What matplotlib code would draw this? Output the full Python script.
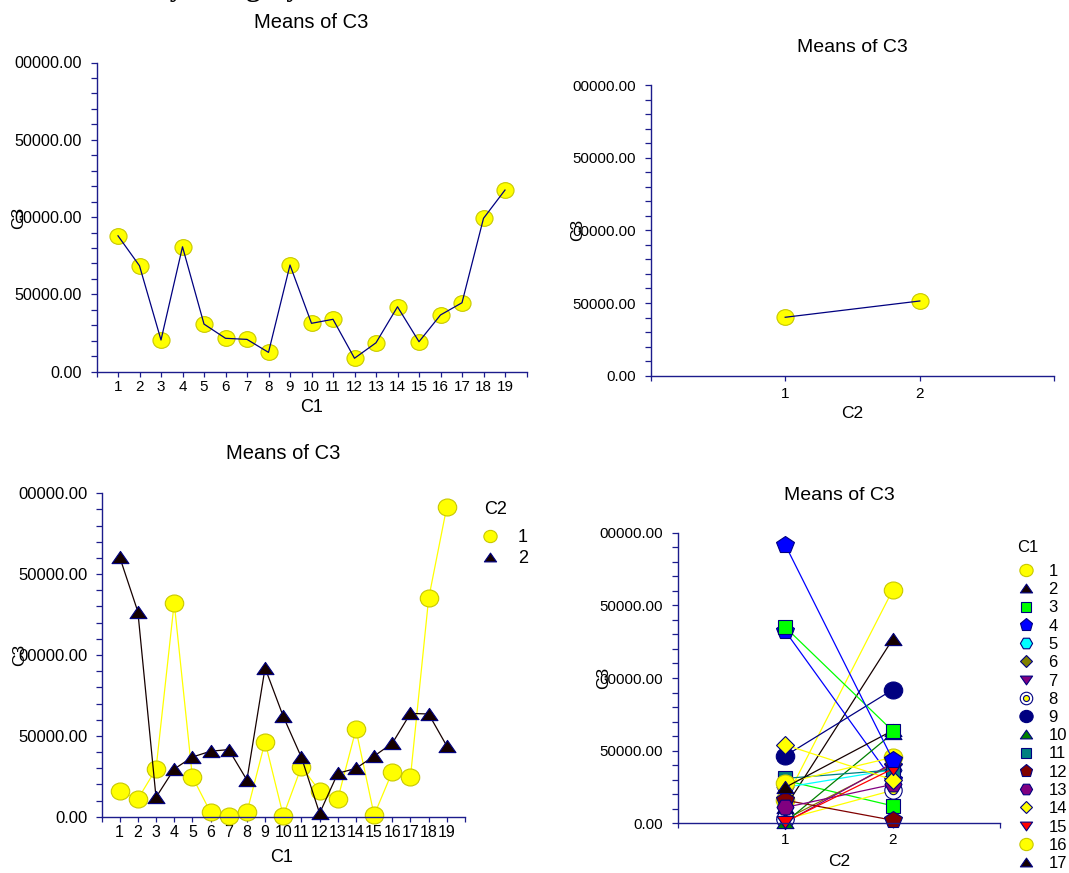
import numpy as np
import matplotlib
matplotlib.use('Agg')
import matplotlib.pyplot as plt
from matplotlib.path import Path
from matplotlib.lines import Line2D
from matplotlib.legend_handler import HandlerTuple
from matplotlib.ticker import FixedLocator, MultipleLocator, NullFormatter

plt.rcParams['font.family'] = ['Liberation Sans', 'DejaVu Sans']

# ---------------- data ----------------
c1_levels = list(range(1, 20))
c1_labels = [str(i) for i in c1_levels]
c2_levels = [1, 2]
c2_labels = ['1', '2']
means_by_c1 = [87900, 68500, 20500, 80800, 30800, 21600, 20900, 12500, 69000, 31300,
               33900, 8700, 18700, 42000, 19400, 36700, 44600, 99200, 117500]
means_by_c2 = [40200, 51400]
means_c2_1 = [15900, 10900, 29500, 132300, 24700, 2700, 500, 2700, 46400, 600,
              30900, 15900, 10900, 54000, 1000, 27800, 24700, 135000, 191700]
means_c2_2 = [160600, 126800, 12000, 29500, 36900, 40500, 41500, 22700, 92000, 62000,
              36700, 2100, 26800, 29900, 37500, 45400, 63900, 63500, 43700]
y_ticks = [0, 50000, 100000, 150000, 200000]
y_tick_labels = ['0.00', '50000.00', '00000.00', '50000.00', '00000.00']
title_text = 'Means of C3'
top_title = 'Means by Category'

# ---------------- styling helpers ----------------
W, H = 1069, 873
fig = plt.figure(figsize=(W / 100, H / 100), dpi=100)
AXC = '#1c1c8c'
NAVY = '#000080'


def add_axes(xl, xr, yt, yb):
    return fig.add_axes([xl / W, 1 - yb / H, (xr - xl) / W, (yb - yt) / H])


def ftext(x, y, s, size, rot=0, **kw):
    fig.text(x / W, 1 - y / H, s, ha='center', va='center', fontsize=size,
             rotation=rot, **kw)


circ = Path.unit_circle()
_v = circ.vertices.copy()
_v[:, 1] *= 0.92
ELL = Path(_v, circ.codes)
TRI_UP = Path([(0, 0.72), (-1, -0.72), (1, -0.72), (0, 0.72)], closed=True)
TRI_DN = Path([(0, -0.72), (-1, 0.72), (1, 0.72), (0, -0.72)], closed=True)


def style_axes(ax, xlim, xticks, xlabels, xsize, ysize):
    ax.set_xlim(*xlim)
    ax.set_ylim(0, 200000)
    for s in ['top', 'right']:
        ax.spines[s].set_visible(False)
    for s in ['left', 'bottom']:
        ax.spines[s].set_color(AXC)
        ax.spines[s].set_linewidth(1.0)
    ax.yaxis.set_major_locator(FixedLocator(y_ticks))
    ax.set_yticklabels(y_tick_labels)
    ax.yaxis.set_minor_locator(MultipleLocator(10000))
    ax.yaxis.set_minor_formatter(NullFormatter())
    ax.set_xticks(xticks)
    ax.set_xticklabels(xlabels)
    ax.tick_params(axis='y', which='both', direction='out', length=4.3, width=0.9,
                   color=AXC, labelsize=ysize, pad=6.0)
    ax.tick_params(axis='x', which='both', direction='out', length=3.8, width=0.9,
                   color=AXC, labelsize=xsize, pad=2.5)
    ax.patch.set_alpha(0)


# ---------------- top-left ----------------
ax1 = add_axes(96.5, 526.5, 62.5, 371.7)
style_axes(ax1, (0, 20), list(range(0, 21)), [''] + c1_labels + [''], 11, 11.6)
ax1.plot(c1_levels, means_by_c1, linestyle='none', marker=ELL, ms=12.3,
         mfc='#FFFF00', mec='#C8C800', mew=0.8, zorder=2, clip_on=False)
ax1.plot(c1_levels, means_by_c1, color=NAVY, lw=0.9, zorder=3, clip_on=False)
ftext(311.5, 23, title_text, 14.5)
ftext(311.5, 408, 'C1', 13)
ftext(18.3, 217.5, 'C3', 12.5, rot=90)

# ---------------- top-right ----------------
ax2 = add_axes(650.6, 1054.4, 85, 375.7)
style_axes(ax2, (0, 3), [0, 1, 2, 3], [''] + c2_labels + [''], 11, 10.8)
ax2.tick_params(axis='x', pad=4.0)
ax2.plot(c2_levels, means_by_c2, linestyle='none', marker=ELL, ms=12.3,
         mfc='#FFFF00', mec='#C8C800', mew=0.8, zorder=2, clip_on=False)
ax2.plot(c2_levels, means_by_c2, color=NAVY, lw=0.9, zorder=3, clip_on=False)
ftext(852.5, 47, title_text, 14)
ftext(852.5, 413, 'C2', 12.5)
ftext(577.8, 230, 'C3', 12.5, rot=90)

# ---------------- bottom-left ----------------
ax3 = add_axes(101.5, 465, 493.3, 816.7)
style_axes(ax3, (0, 20), list(range(0, 21)), [''] + c1_labels + [''], 11.5, 12)
ax3.plot(c1_levels, means_c2_1, color='#FFFF00', lw=0.9, marker=ELL, ms=13.3,
         mfc='#FFFF00', mec='#C8C800', mew=0.8, clip_on=False, zorder=2)
ax3.plot(c1_levels, means_c2_2, color='#150000', lw=0.9, marker=TRI_UP, ms=12.2,
         mfc='#150000', mec=NAVY, mew=0.8, clip_on=False, zorder=3)
ftext(283, 453, title_text, 14.5)
ftext(282, 858, 'C1', 13)
ftext(20, 655, 'C3', 12.5, rot=90)
ftext(496, 509, 'C2', 13)
h1 = Line2D([], [], linestyle='none', marker=ELL, ms=13.3, mfc='#FFFF00', mec='#C8C800', mew=0.8)
h2 = Line2D([], [], linestyle='none', marker=TRI_UP, ms=12.2, mfc='#150000', mec=NAVY, mew=0.8)
leg1 = ax3.legend([h1, h2], c2_labels, loc='upper left',
                  bbox_to_anchor=(482.8 / W, 1 - 529.0 / H), bbox_transform=fig.transFigure,
                  frameon=False, fontsize=13, markerscale=0.72,
                  handlelength=0.8, handletextpad=1.15, labelspacing=0.22,
                  borderpad=0, borderaxespad=0)

# ---------------- bottom-right ----------------
ax4 = add_axes(677.6, 1000.4, 532.7, 823.3)
style_axes(ax4, (0, 3), [0, 1, 2, 3], [''] + c2_labels + [''], 11, 10.8)
ax4.tick_params(axis='x', pad=3.0)

base_styles = [
    dict(marker=ELL, mfc='#FFFF00', mec='#C8C800', color='#FFFF00', ms=13.3),
    dict(marker=TRI_UP, mfc='#150000', mec=NAVY, color='#150000', ms=12.2),
    dict(marker='s', mfc='#00FF00', mec=NAVY, color='#00FF00', ms=9.7),
    dict(marker='p', mfc='#0000FF', mec=NAVY, color='#0000FF', ms=13.2),
    dict(marker='H', mfc='#00FFFF', mec=NAVY, color='#00FFFF', ms=12.2),
    dict(marker='D', mfc='#808000', mec=NAVY, color='#808000', ms=8.9),
    dict(marker=TRI_DN, mfc='#800080', mec=NAVY, color='#800080', ms=12.2),
    dict(marker='o', mfc='white', mec=NAVY, color='#FFFF00', ms=12.5, inner=True),
    dict(marker=ELL, mfc=NAVY, mec=NAVY, color=NAVY, ms=13.3),
    dict(marker=TRI_UP, mfc='#008000', mec=NAVY, color='#008000', ms=12.2),
    dict(marker='s', mfc='#008080', mec=NAVY, color='#008080', ms=9.7),
    dict(marker='p', mfc='#800000', mec=NAVY, color='#800000', ms=13.2),
    dict(marker='H', mfc='#800080', mec=NAVY, color='#800080', ms=12.2),
    dict(marker='D', mfc='#FFFF00', mec=NAVY, color='#FFFF00', ms=8.9),
    dict(marker=TRI_DN, mfc='#FF0000', mec=NAVY, color='#FF0000', ms=12.2),
]

handles = []
for i, lvl in enumerate(c1_levels):
    st = base_styles[i % len(base_styles)]
    yv = [means_c2_1[i], means_c2_2[i]]
    ax4.plot(c2_levels, yv, color=st['color'], lw=0.9, marker=st['marker'], ms=st['ms'],
             mfc=st['mfc'], mec=st['mec'], mew=0.8, clip_on=False, zorder=2 + i * 0.01)
    hd = Line2D([], [], linestyle='none', marker=st['marker'], ms=st['ms'],
                mfc=st['mfc'], mec=st['mec'], mew=0.8)
    if st.get('inner'):
        ax4.plot(c2_levels, yv, linestyle='none', marker='o', ms=6.0, mfc='#FFFF00',
                 mec=NAVY, mew=0.8, clip_on=False, zorder=2 + i * 0.01 + 0.005)
        hd2 = Line2D([], [], linestyle='none', marker='o', ms=6.0, mfc='#FFFF00',
                     mec=NAVY, mew=0.8)
        handles.append((hd, hd2))
    else:
        handles.append(hd)

ftext(839, 495, title_text, 14)
ftext(839, 861, 'C2', 12.5)
ftext(604, 678, 'C3', 12.5, rot=90)
ftext(1028, 547, 'C1', 12)
leg2 = ax4.legend(handles, c1_labels, loc='upper left',
                  bbox_to_anchor=(1017.7 / W, 1 - 564.0 / H), bbox_transform=fig.transFigure,
                  frameon=False, fontsize=12, markerscale=0.72,
                  handlelength=1.0, handletextpad=0.85, labelspacing=0.195,
                  borderpad=0, borderaxespad=0,
                  handler_map={tuple: HandlerTuple(ndivide=1, pad=0)})

# cut-off report heading at very top
fig.text(69 / W, 1 + 4.5 / H, top_title, ha='left', va='baseline', fontsize=20,
         fontweight='bold', family=['Liberation Serif', 'DejaVu Serif'])

fig.savefig('out.png', dpi=100)
